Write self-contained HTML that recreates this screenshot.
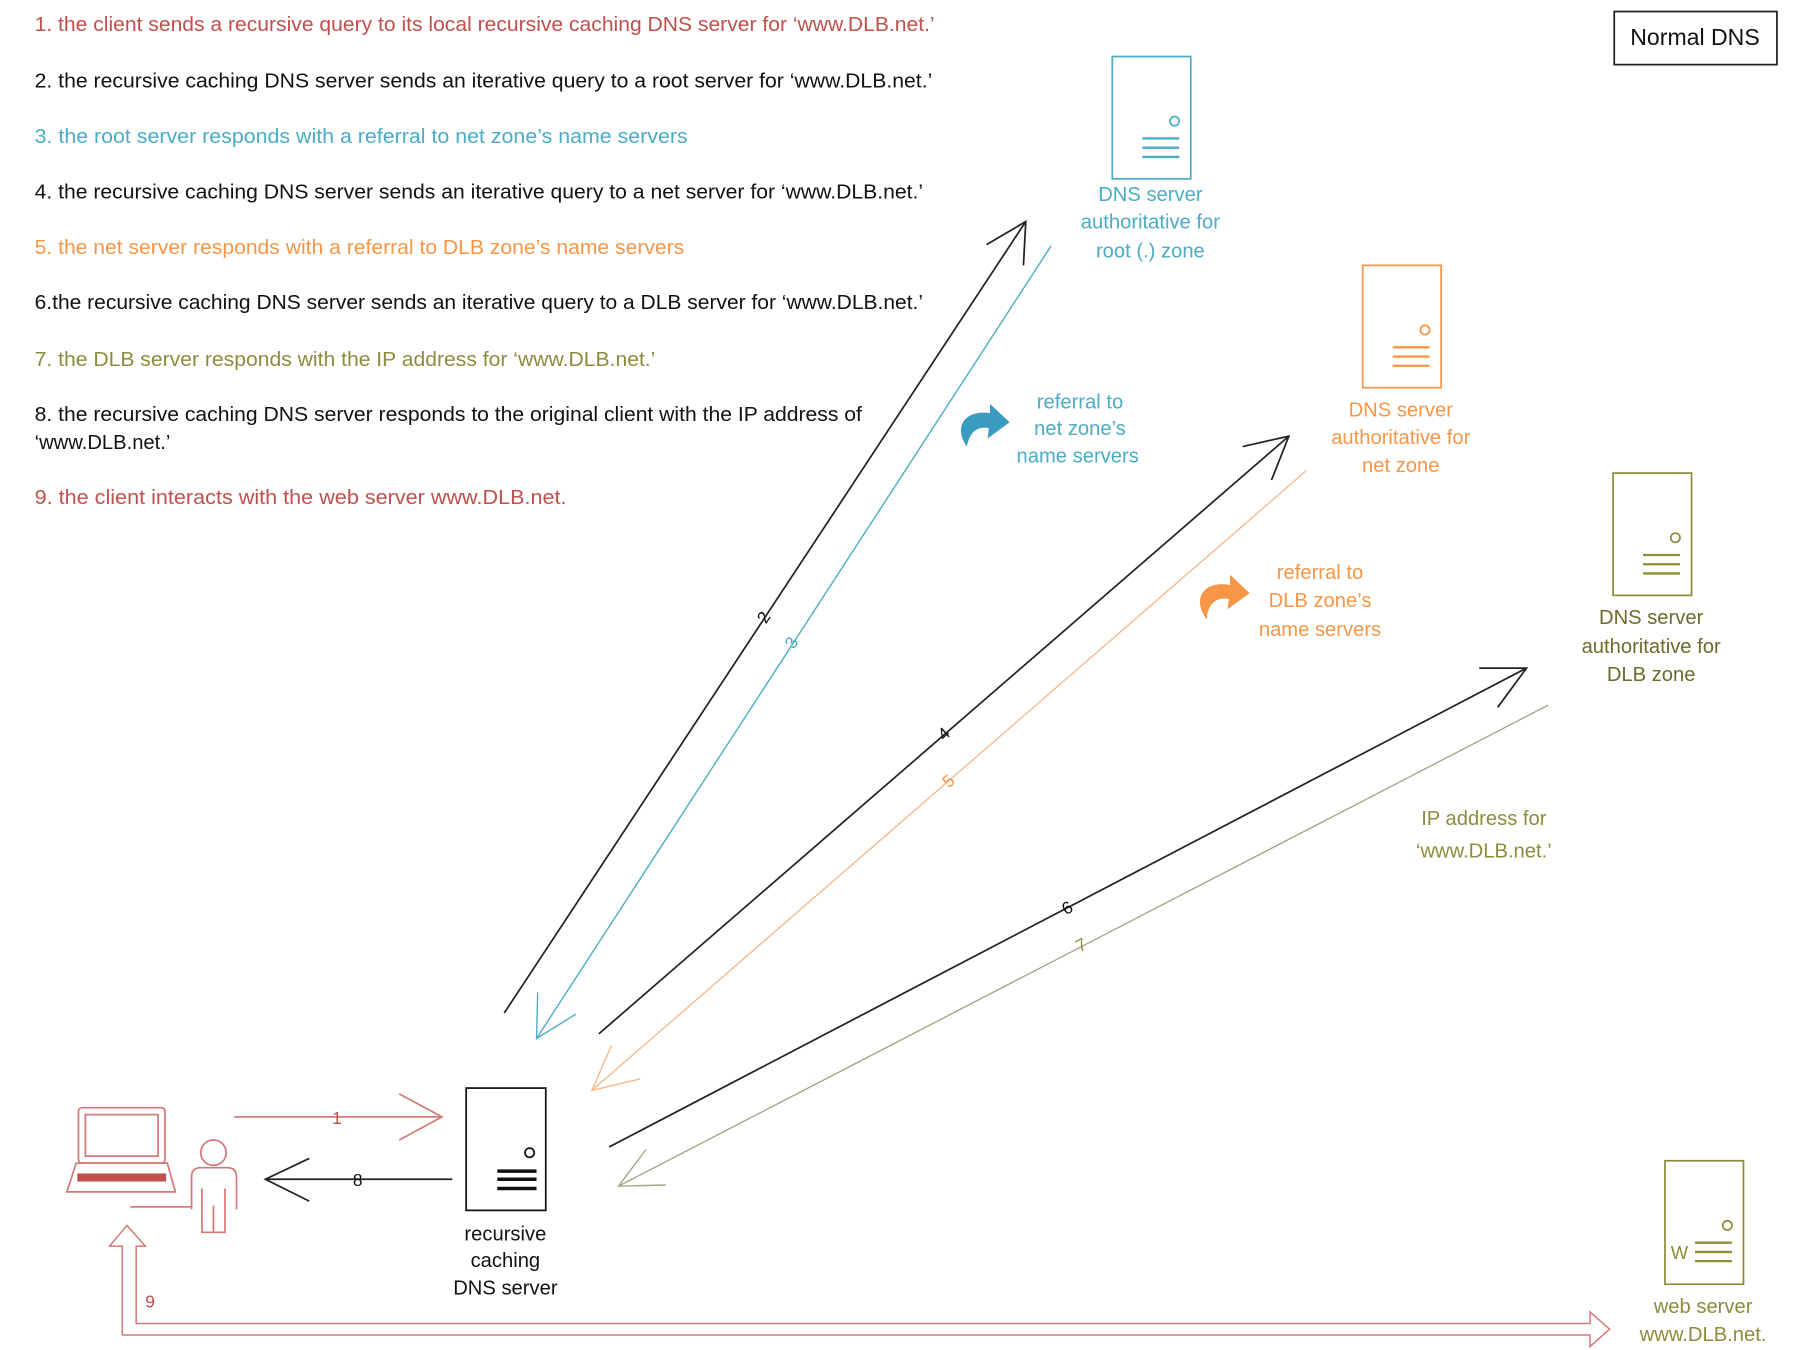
<!DOCTYPE html>
<html><head><meta charset="utf-8"><style>
html,body{margin:0;padding:0;background:#fff;}
svg{display:block;}
text{font-family:"Liberation Sans",sans-serif;}
</style></head><body>
<svg width="1800" height="1350" viewBox="0 0 1560 1170" xmlns="http://www.w3.org/2000/svg">
<rect width="1560" height="1170" fill="#fff"/>
<g font-size="17.5">
<text x="30" y="27" fill="#c0504d" textLength="780" lengthAdjust="spacingAndGlyphs">1. the client sends a recursive query to its local recursive caching DNS server for ‘www.DLB.net.’</text>
<text x="30" y="76" fill="#111" textLength="778" lengthAdjust="spacingAndGlyphs">2. the recursive caching DNS server sends an iterative query to a root server for ‘www.DLB.net.’</text>
<text x="30" y="124" fill="#4bacc6" textLength="566" lengthAdjust="spacingAndGlyphs">3. the root server responds with a referral to net zone’s name servers</text>
<text x="30" y="172" fill="#111" textLength="770" lengthAdjust="spacingAndGlyphs">4. the recursive caching DNS server sends an iterative query to a net server for ‘www.DLB.net.’</text>
<text x="30" y="220" fill="#f79646" textLength="563" lengthAdjust="spacingAndGlyphs">5. the net server responds with a referral to DLB zone’s name servers</text>
<text x="30" y="268" fill="#111" textLength="770" lengthAdjust="spacingAndGlyphs">6.the recursive caching DNS server sends an iterative query to a DLB server for ‘www.DLB.net.’</text>
<text x="30" y="317" fill="#8c8c3c" textLength="538" lengthAdjust="spacingAndGlyphs">7. the DLB server responds with the IP address for ‘www.DLB.net.’</text>
<text x="30" y="365" fill="#111" textLength="717" lengthAdjust="spacingAndGlyphs">8. the recursive caching DNS server responds to the original client with the IP address of</text>
<text x="30" y="389" fill="#111">‘www.DLB.net.’</text>
<text x="30" y="437" fill="#c0504d" textLength="461" lengthAdjust="spacingAndGlyphs">9. the client interacts with the web server www.DLB.net.</text>
</g>
<rect x="1399" y="10" width="141" height="46" fill="none" stroke="#222" stroke-width="1.5"/>
<text x="1469" y="39" font-size="20" text-anchor="middle" fill="#111">Normal DNS</text>

<!-- servers -->
<g fill="none" stroke-width="1.5">
<g stroke="#4bacc6"><rect x="964" y="49" width="68" height="106"/><circle cx="1018" cy="105" r="4"/><path d="M990 120H1022M990 128H1022M990 136H1022" stroke-width="2"/></g>
<g stroke="#f79646"><rect x="1181" y="230" width="68" height="106"/><circle cx="1235" cy="286" r="4"/><path d="M1207 301H1239M1207 309H1239M1207 317H1239" stroke-width="2"/></g>
<g stroke="#8c8c3c"><rect x="1398" y="410" width="68" height="106"/><circle cx="1452" cy="466" r="4"/><path d="M1424 481H1456M1424 489H1456M1424 497H1456" stroke-width="2"/></g>
<g stroke="#8c8c3c"><rect x="1443" y="1006" width="68" height="107"/><circle cx="1497" cy="1062" r="4"/><path d="M1469 1077H1501M1469 1085H1501M1469 1093H1501" stroke-width="2"/></g>
<g stroke="#111"><rect x="404" y="943" width="69" height="106"/><circle cx="459" cy="999" r="4"/><path d="M431 1015H465M431 1022H465M431 1030H465" stroke-width="3"/></g>
</g>
<text x="1448" y="1091" font-size="16" fill="#8c8c3c">W</text>

<g font-size="17.5" text-anchor="middle">
<g fill="#4bacc6"><text x="997" y="174">DNS server</text><text x="997" y="198">authoritative for</text><text x="997" y="223">root (.) zone</text></g>
<g fill="#f79646"><text x="1214" y="361">DNS server</text><text x="1214" y="385">authoritative for</text><text x="1214" y="409">net zone</text></g>
<g fill="#6b6b2a"><text x="1431" y="541">DNS server</text><text x="1431" y="566">authoritative for</text><text x="1431" y="590">DLB zone</text></g>
<g fill="#8c8c3c"><text x="1476" y="1138">web server</text><text x="1476" y="1162">www.DLB.net.</text></g>
<g fill="#111"><text x="438" y="1075">recursive</text><text x="438" y="1098">caching</text><text x="438" y="1122">DNS server</text></g>
<g fill="#4bacc6"><text x="936" y="354">referral to</text><text x="936" y="377">net zone’s</text><text x="934" y="401">name servers</text></g>
<g fill="#f79646"><text x="1144" y="502">referral to</text><text x="1144" y="526">DLB zone’s</text><text x="1144" y="551">name servers</text></g>
<g fill="#8c8c3c"><text x="1286" y="715">IP address for</text><text x="1286" y="743">‘www.DLB.net.’</text></g>
</g>

<!-- arrows -->
<g fill="none" stroke-width="1.5">
<g stroke="#222"><path d="M437 878L889 192"/><path d="M855 212L889 192L887 230"/></g>
<g stroke="#4bacc6" stroke-width="1.2"><path d="M911 213L465 900"/><path d="M466 860L465 900L499 879"/></g>
<g stroke="#222"><path d="M519 896L1117 378"/><path d="M1077 387L1117 378L1102 416"/></g>
<g stroke="#f7b98a" stroke-width="1.2"><path d="M1132 408L513 945"/><path d="M530 906L513 945L555 935"/></g>
<g stroke="#222"><path d="M528 994L1323 579"/><path d="M1282 579L1323 579L1298 613"/></g>
<g stroke="#a5a58a" stroke-width="1.2"><path d="M1342 611L536 1028"/><path d="M560 996L536 1028L577 1027"/></g>
<g stroke="#d27a78"><path d="M203 968H383"/><path d="M346 948L383 968L346 988"/></g>
<g stroke="#222"><path d="M392 1022H230"/><path d="M268 1004L230 1022L268 1041"/></g>
<path d="M110 1062L126 1080H118V1147H1378V1137L1395 1152L1378 1167V1157H106V1080H95Z" stroke="#d27a78" stroke-width="1.3"/>
</g>
<g font-size="15">
<text x="292" y="974" fill="#c0504d" text-anchor="middle">1</text>
<text x="310" y="1028" fill="#111" text-anchor="middle">8</text>
<text x="130" y="1133" fill="#c0504d" text-anchor="middle">9</text>
<text x="662" y="540" fill="#111" transform="rotate(-57 662 535)" text-anchor="middle">2</text>
<text x="686" y="562" fill="#4bacc6" transform="rotate(-57 686 557)" text-anchor="middle">3</text>
<text x="818" y="641" fill="#111" transform="rotate(-41 818 636)" text-anchor="middle">4</text>
<text x="822" y="682" fill="#f79646" transform="rotate(-41 822 677)" text-anchor="middle">5</text>
<text x="925" y="792" fill="#111" transform="rotate(-28 925 787)" text-anchor="middle">6</text>
<text x="937" y="824" fill="#8c8c3c" transform="rotate(-28 937 819)" text-anchor="middle">7</text>
</g>

<!-- curl arrows -->
<path d="M838 387C826 370 836 355 858 358L858 350L875 366L856 380L857 371C846 369 840 376 838 387Z" fill="#3a9cc0"/>
<path d="M1046 537C1032 518 1044 503 1066 507L1066 498L1083 514L1064 528L1065 519C1053 517 1046 525 1046 537Z" fill="#f79646"/>

<!-- laptop & person -->
<g fill="none" stroke="#d27a78" stroke-width="1.5">
<rect x="68" y="960" width="75" height="48" rx="3"/>
<rect x="74" y="966" width="63" height="36"/>
<path d="M66 1008H145L152 1033H58Z"/>
<path d="M113 1046H166"/>
<circle cx="185" cy="999" r="11"/>
<path d="M166 1048V1020Q166 1012 174 1012H197Q205 1012 205 1020V1048M175 1030V1068H195V1030M185 1045V1068"/>
</g>
<rect x="67" y="1017" width="77" height="7" fill="#c0504d"/>
</svg>
</body></html>
